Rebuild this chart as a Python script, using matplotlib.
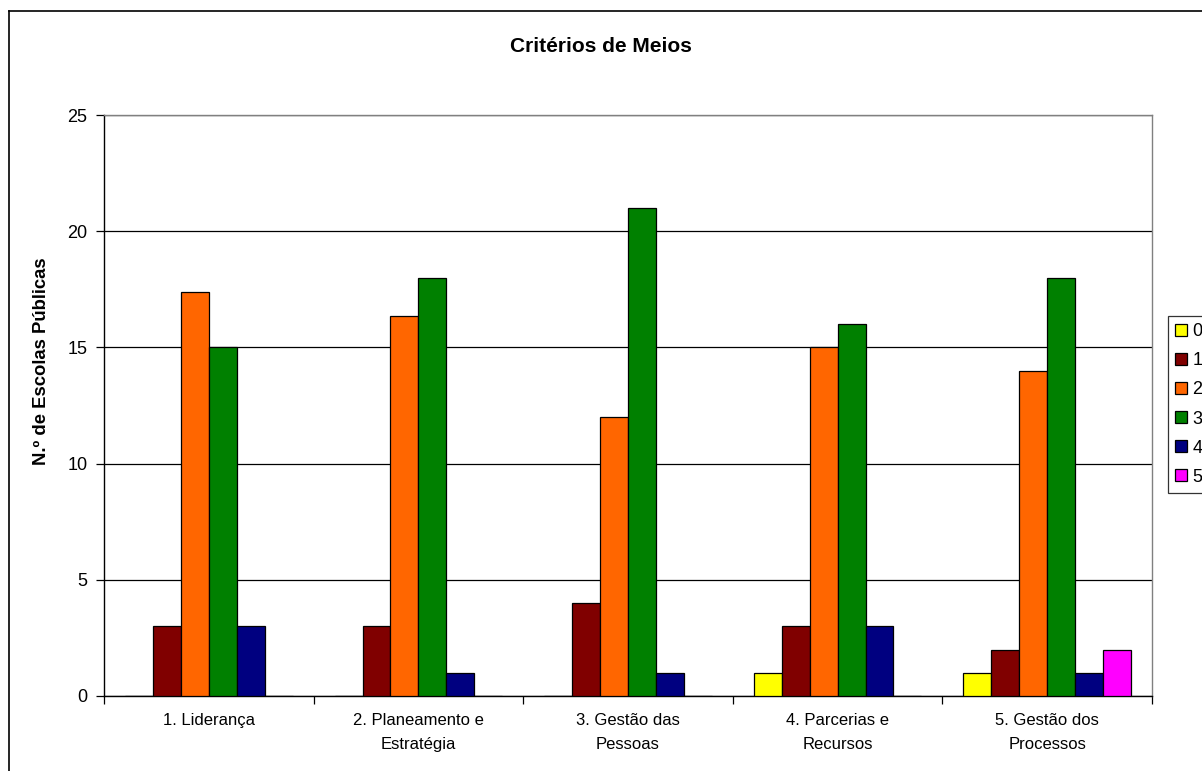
import numpy as np
import matplotlib
matplotlib.use("Agg")
import matplotlib.pyplot as plt
from matplotlib.lines import Line2D

plt.rcParams['font.family'] = ['Liberation Sans', 'DejaVu Sans']

categories = ["1. Liderança", "2. Planeamento e\nEstratégia", "3. Gestão das\nPessoas",
              "4. Parcerias e\nRecursos", "5. Gestão dos\nProcessos"]
levels = ["0", "1", "2", "3", "4", "5"]

# number of schools per level (rows) for each criterion (columns)
level_0 = [0, 0, 0, 1, 1]
level_1 = [3, 3, 4, 3, 2]
level_2 = [17.4, 16.35, 12, 15, 14]
level_3 = [15, 18, 21, 16, 18]
level_4 = [3, 1, 1, 3, 1]
level_5 = [0, 0, 0, 0, 2]
colors = ["#FFFF00", "#800000", "#FF6600", "#008000", "#000080", "#FF00FF"]

series = [level_0, level_1, level_2, level_3, level_4, level_5]

fig = plt.figure(figsize=(12.02, 7.71), dpi=100)
ax = fig.add_axes([104/1202, 1-696/771, (1152-104)/1202, (696-115)/771])

x = np.arange(len(categories))
w = 1 / 7.5
for i, (vals, col) in enumerate(zip(series, colors)):
    ax.bar(x + (i - 2.5) * w, vals, width=w, color=col, edgecolor="black",
           linewidth=0.9, label=levels[i], zorder=3)

ax.set_xlim(-0.5, len(categories) - 0.5)
ax.set_ylim(0, 25)
ax.set_yticks(range(0, 26, 5))
ax.yaxis.grid(True, color="black", linewidth=0.9, zorder=0)

# category labels between boundary ticks
ax.set_xticks(x)
ax.set_xticklabels(categories, fontsize=12, linespacing=1.8)
ax.tick_params(axis="x", which="major", length=0, pad=12)
ax.set_xticks(np.arange(-0.5, len(categories)), minor=True)
ax.tick_params(axis="x", which="minor", length=6, width=0.9, direction="out")
ax.tick_params(axis="y", length=6, width=0.9, labelsize=13, pad=6)

for s in ["top", "right"]:
    ax.spines[s].set_color("#808080")
for s in ["left", "bottom"]:
    ax.spines[s].set_color("black")
for s in ax.spines.values():
    s.set_linewidth(1.0)

ax.set_ylabel("N.º de Escolas Públicas", fontsize=13.3, fontweight="bold")
ax.yaxis.set_label_coords((50 - 104) / (1152 - 104), (696 - 361) / 581)
fig.text(0.5, 1 - 47/771, "Critérios de Meios", fontsize=15, fontweight="bold",
         ha="center", va="center")

leg = fig.legend(loc="upper left", bbox_to_anchor=(1168/1202, 1 - 316/771),
                 borderaxespad=0, fontsize=13, frameon=True, fancybox=False,
                 edgecolor="black", handlelength=0.65, handleheight=0.65,
                 handletextpad=0.3, labelspacing=0.67, borderpad=0.4)
leg.get_frame().set_linewidth(0.9)

# chart area frame
fig.add_artist(Line2D([9/1202, 9/1202], [0, 1 - 11/771], color="black", linewidth=1.2))
fig.add_artist(Line2D([9/1202, 1], [1 - 11/771, 1 - 11/771], color="black", linewidth=1.2))

fig.savefig("out.png", dpi=100)
